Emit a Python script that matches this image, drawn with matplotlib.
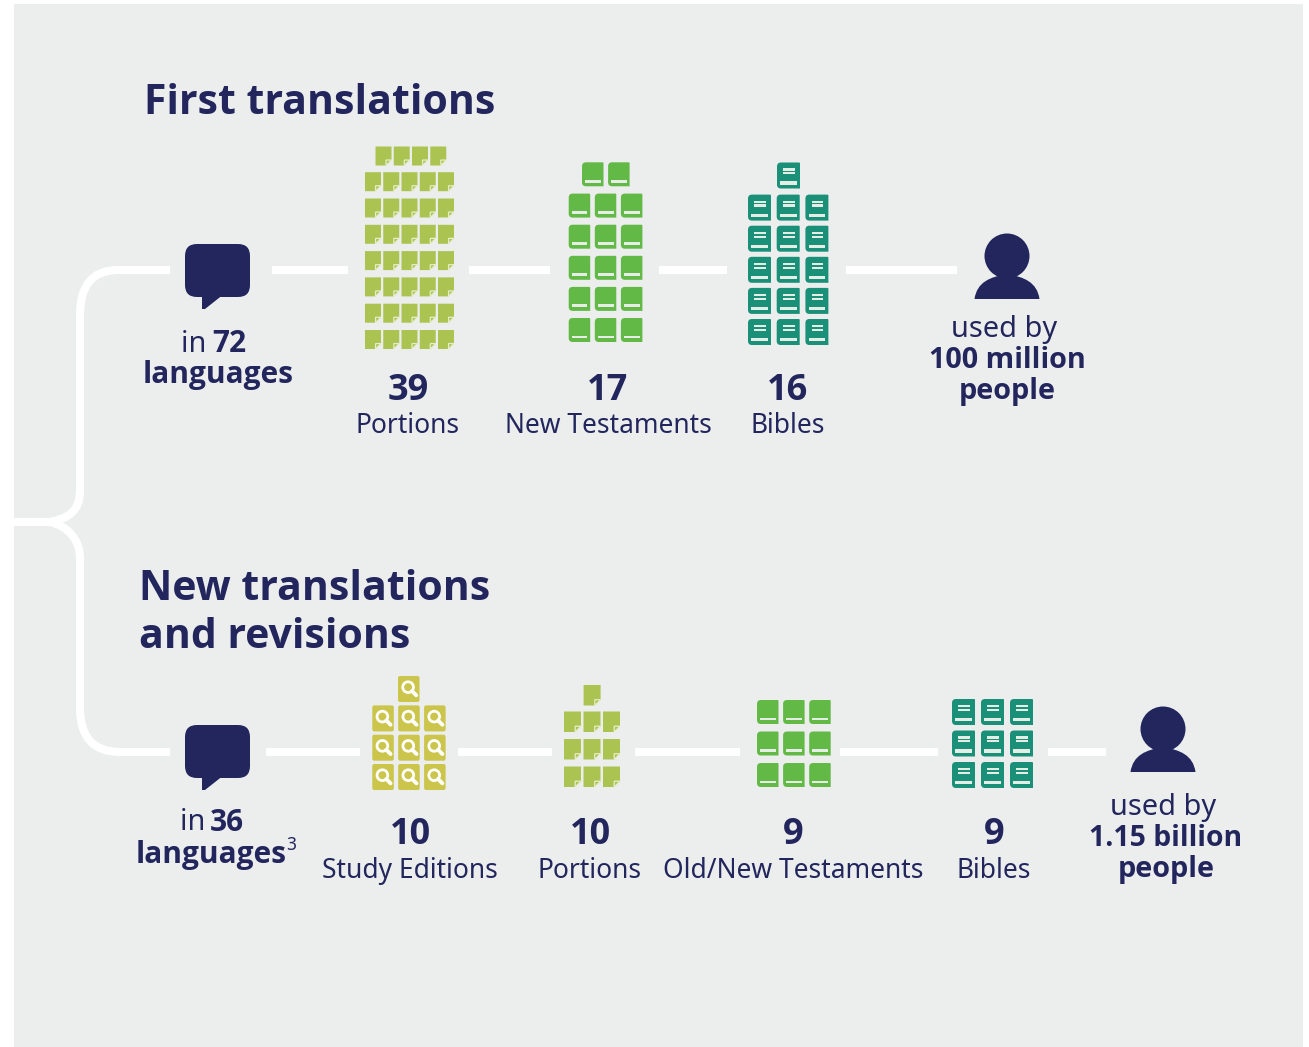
import matplotlib
matplotlib.use("Agg")
import matplotlib.pyplot as plt
from matplotlib.patches import FancyBboxPatch, Polygon, Circle, PathPatch, Rectangle
from matplotlib.path import Path

plt.rcParams["font.family"] = ["Noto Sans", "DejaVu Sans"]
BOLD_FONT = ["Open Sans", "DejaVu Sans"]

# Data
first_counts = [39, 17, 16]
first_labels = ["Portions", "New Testaments", "Bibles"]
first_languages = 72
first_people = "100 million"
new_counts = [10, 10, 9, 9]
new_labels = ["Study Editions", "Portions", "Old/New Testaments", "Bibles"]
new_languages = 36
new_people = "1.15 billion"

NAVY = "#22265C"
BG = "#ECEEEE"
PORTION = "#ABC451"
NT = "#62B946"
BIBLE = "#1A9078"
STUDY = "#CBC54B"
PALE = "#E4EEE6"

fig = plt.figure(figsize=(13.09, 10.47), dpi=100)
ax = fig.add_axes([0, 0, 1, 1])
ax.set_xlim(0, 1309)
ax.set_ylim(1047, 0)
ax.axis("off")

ax.add_patch(Rectangle((14, 4), 1289, 1043, fc=BG, ec="none"))


def page(x, y, w, h):
    f = w * 0.34
    ax.add_patch(Polygon([(x, y), (x + w, y), (x + w, y + h - f), (x + w - f, y + h), (x, y + h)],
                         fc=PORTION, ec="none", zorder=3))
    ax.add_patch(Polygon([(x + w - f, y + h - f), (x + w, y + h - f), (x + w - f, y + h)],
                         fc=PORTION, ec="#E6EDCB", lw=0.9, zorder=4))


def book(x, y, w, h, color=NT, lines=False):
    r = 4
    verts = [(x + r, y), (x + w - 1, y), (x + w, y), (x + w, y + 1), (x + w, y + h), (x + r, y + h),
             (x, y + h), (x, y + h - r), (x, y + r), (x, y), (x + r, y)]
    codes = [Path.MOVETO, Path.LINETO, Path.CURVE3, Path.CURVE3, Path.LINETO, Path.LINETO,
             Path.CURVE3, Path.CURVE3, Path.LINETO, Path.CURVE3, Path.CURVE3]
    ax.add_patch(PathPatch(Path(verts, codes), fc=color, ec="none", zorder=3))
    ax.add_patch(Rectangle((x + w * 0.15, y + h * 0.73), w * 0.72, h * 0.12, fc=PALE, ec="none", zorder=4))
    if lines:
        for f in (0.23, 0.38):
            ax.add_patch(Rectangle((x + w * 0.27, y + h * f), w * 0.51, h * 0.08, fc=PALE, ec="none", zorder=4))


def bible(x, y, w, h):
    book(x, y, w, h, BIBLE, True)


def study(x, y, w, h):
    ax.add_patch(FancyBboxPatch((x + 2, y + 2), w - 4, h - 4, boxstyle="round,pad=2,rounding_size=2",
                                fc=STUDY, ec="none", zorder=3))
    cx, cy = x + w * 0.47, y + h * 0.43
    ax.add_patch(Circle((cx, cy), w * 0.25, fc="none", ec="white", lw=2.0, zorder=4))
    ax.plot([cx + w * 0.18, cx + w * 0.38], [cy + w * 0.18, cy + w * 0.38], color="white", lw=2.8,
            solid_capstyle="round", zorder=4)


def stack(count, draw, cols, x0, bottom, w, h, dx, dy, top_x, top_y):
    # full rows sit at the bottom, the remainder is a centred row on top
    full = count // cols
    extra = count - full * cols
    for r in range(full):
        for c in range(cols):
            draw(x0 + c * dx, bottom - h - r * dy, w, h)
    for c in range(extra):
        draw(top_x + c * dx, top_y, w, h)


def bubble(y):
    ax.add_patch(FancyBboxPatch((197, y + 12), 41, 29, boxstyle="round,pad=12,rounding_size=12",
                                fc=NAVY, ec="none", zorder=3))
    ax.add_patch(Polygon([(202, y + 50), (202, y + 65), (205, y + 65), (224, y + 50)], fc=NAVY, ec="none", zorder=3))


def person(cx, head_y, base):
    ax.add_patch(Circle((cx, head_y), 22.5, fc=NAVY, ec="none", zorder=3))
    verts = [(cx - 32.5, base), (cx - 30, base - 17), (cx - 17, base - 22), (cx, base - 25),
             (cx + 17, base - 22), (cx + 30, base - 17), (cx + 32.5, base), (cx - 32.5, base)]
    codes = [Path.MOVETO, Path.CURVE4, Path.CURVE4, Path.CURVE4, Path.CURVE4, Path.CURVE4, Path.CURVE4, Path.CLOSEPOLY]
    ax.add_patch(PathPatch(Path(verts, codes), fc=NAVY, ec="none", zorder=3))


def seg(y, x1, x2):
    ax.plot([x1, x2], [y, y], color="white", lw=5.8, solid_capstyle="butt", zorder=2)


# connector lines
for a, b in [(272, 348), (469, 550), (659, 727), (846, 957)]:
    seg(270, a, b)
for a, b in [(266, 360), (458, 552), (635, 740), (840, 938), (1048, 1106)]:
    seg(752, a, b)

# bracket on the left
verts = [(170, 270), (118, 270), (80, 270), (80, 315), (80, 490), (80, 512), (68, 518), (50, 522)]
codes = [Path.MOVETO, Path.LINETO, Path.CURVE3, Path.CURVE3, Path.LINETO, Path.CURVE4, Path.CURVE4, Path.CURVE4]
ax.add_patch(PathPatch(Path(verts, codes), fc="none", ec="white", lw=5.8, zorder=2))
verts = [(14, 522), (50, 522), (68, 526), (80, 540), (80, 558), (80, 708), (80, 752), (120, 752), (170, 752)]
codes = [Path.MOVETO, Path.LINETO, Path.CURVE4, Path.CURVE4, Path.CURVE4, Path.LINETO, Path.CURVE3, Path.CURVE3, Path.LINETO]
ax.add_patch(PathPatch(Path(verts, codes), fc="none", ec="white", lw=5.8, zorder=2))

# icon stacks, first translations
stack(first_counts[0], page, 5, 365, 349, 16, 19, 18.25, 26.3, 375.5, 146.5)
stack(first_counts[1], book, 3, 568.7, 342, 21.5, 24, 26.1, 31.1, 582, 162.3)
stack(first_counts[2], bible, 3, 748, 345, 23, 26, 28.7, 31.1, 777, 162.5)

# icon stacks, new translations
stack(new_counts[0], study, 3, 372.3, 790, 21.5, 26, 25.9, 29.3, 398, 676)
stack(new_counts[1], page, 3, 564, 787, 17, 20.5, 19.5, 27.5, 583.6, 685)
stack(new_counts[2], book, 3, 757, 787, 21.5, 24, 26.1, 31.5, 0, 0)
stack(new_counts[3], bible, 3, 952, 788, 23, 26, 29, 31.5, 0, 0)

bubble(244)
bubble(725)
person(1007, 256, 299)
person(1163, 729, 772)


def label(x, y, s, size=20.8, bold=False, ha="center"):
    ax.text(x, y + 3, s, fontsize=size, family=BOLD_FONT if bold else None,
            fontweight="bold" if bold else "normal", color=NAVY, ha=ha, va="center")


# titles
label(144, 101, "First translations", size=29.5, bold=True, ha="left")
label(139, 586, "New translations", size=29.5, bold=True, ha="left")
label(139, 634, "and revisions", size=29.5, bold=True, ha="left")

# language labels
label(214, 341, "in ", ha="right")
label(212, 341, str(first_languages), size=21.5, bold=True, ha="left")
label(218, 372, "languages", size=21.5, bold=True)
label(213, 820, "in ", ha="right")
label(210, 820, str(new_languages), size=21.5, bold=True, ha="left")
label(211, 852, "languages", size=21.5, bold=True)
label(286, 842, "3", size=12.5, ha="left")

# counts and names
for x, n, name in zip([408, 608, 788], first_counts, first_labels):
    label(x, 388, str(n), size=26, bold=True)
    label(x, 423, name, size=19)
for x, n, name in zip([410, 590, 793, 994], new_counts, new_labels):
    label(x, 832, str(n), size=26, bold=True)
    label(x, 868, name, size=19)

# audience
label(1004, 326, "used by")
label(1007, 357, first_people, bold=True)
label(1007, 388, "people", bold=True)
label(1163, 804, "used by")
label(1166, 835, new_people, size=20.4, bold=True)
label(1166, 867, "people", bold=True)

fig.savefig("out.png", dpi=100, facecolor="white")
